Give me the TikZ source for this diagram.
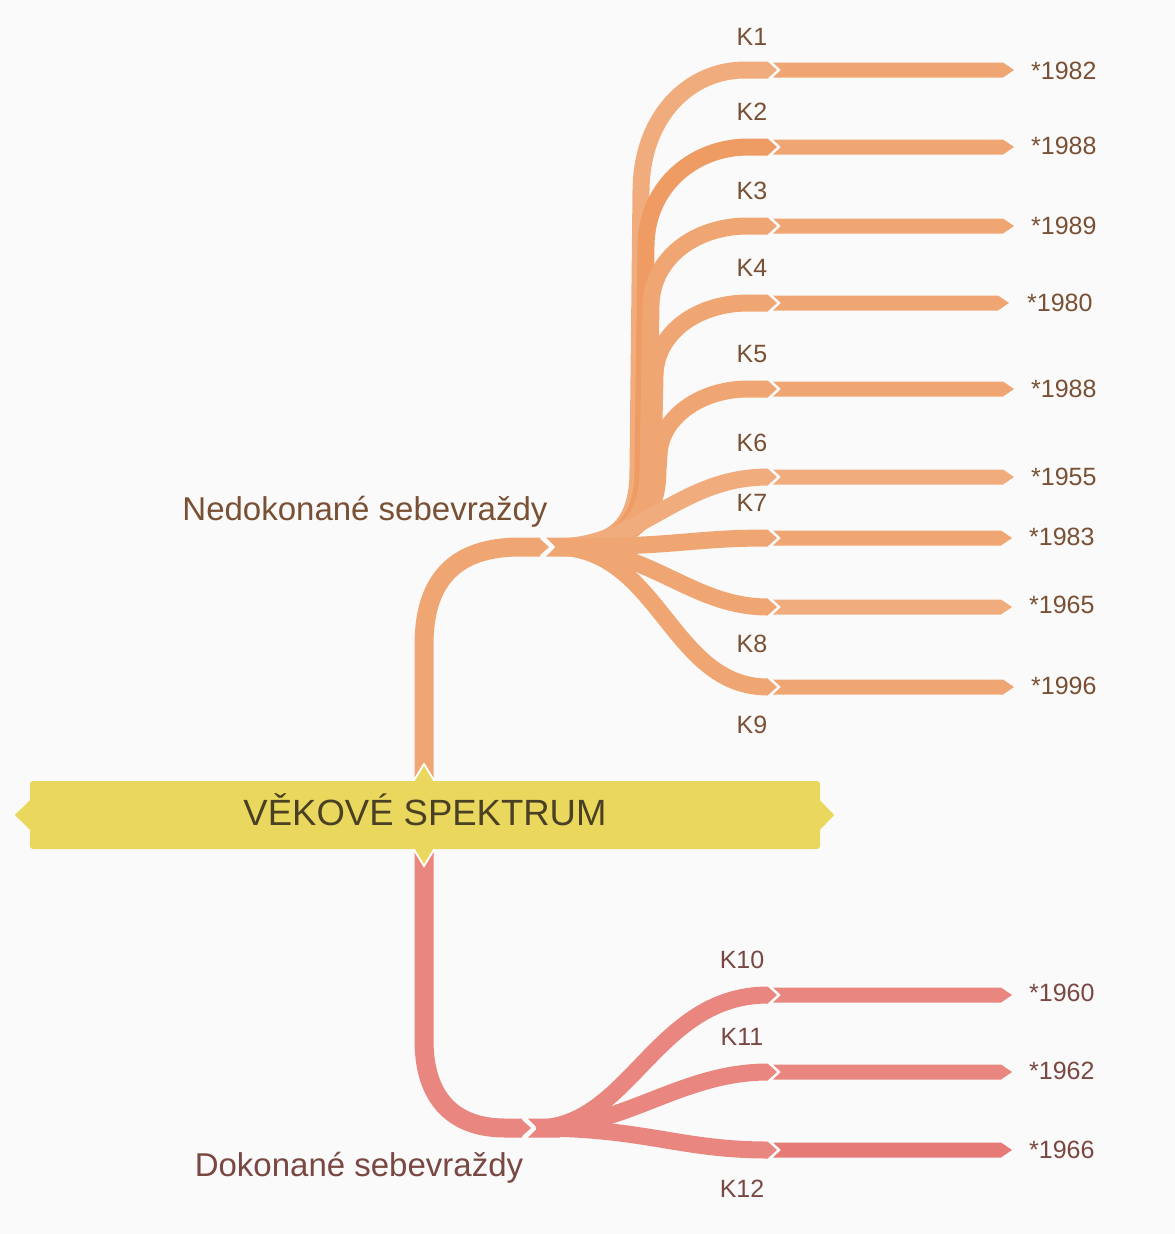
\documentclass[tikz,border=0pt]{standalone}
\usepackage{fontspec}
\setmainfont{Liberation Sans}
\usetikzlibrary{calc}

\definecolor{bgc}{HTML}{FAFAFA}
\definecolor{orA}{HTML}{F0A673}
\definecolor{orB}{HTML}{EE9C64}
\definecolor{orC}{HTML}{F1AC7E}
\definecolor{rdA}{HTML}{E8867F}
\definecolor{rdB}{HTML}{E57A76}
\definecolor{cyel}{HTML}{EAD85E}
\definecolor{txtO}{HTML}{7A5034}
\definecolor{txtR}{HTML}{7A4842}
\definecolor{txtC}{HTML}{4A4125}

% arrow tip closing a branch that ends at #1
\newcommand{\tipend}[2]{\fill[#2] (#1) ++(-0.5,-8.5) -- ++(9.5,8.5) -- ++(-9.5,8.5) -- cycle;}
% notched bar that starts just after the tip at #1
\newcommand{\leafbar}[3]{\fill[#3] (#1) ++(5,-7.5) -- ++(#2,0) -- ++(11,7.5) -- ++(-11,7.5) -- ++(-#2,0) -- ++(8,-7.5) -- cycle;}

\begin{document}
\begin{tikzpicture}[x=1pt,y=-1pt,
  stem/.style={line width=19pt},
  twig/.style={line width=17pt},
  klab/.style={font=\fontsize{25}{30}\selectfont, inner sep=0pt},
  dlab/.style={font=\fontsize{25}{30}\selectfont, inner sep=0pt, anchor=west},
  glab/.style={font=\fontsize{33}{40}\selectfont, inner sep=0pt},
]
\useasboundingbox (0,0) rectangle (1175,1234);
\fill[bgc] (0,0) rectangle (1175,1234);

% ---------- anchor points ----------
\coordinate (top0) at (424,782);
\coordinate (topEnd) at (540,547);
\coordinate (hubT) at (555,547);
\coordinate (bot0) at (424,848);
\coordinate (botEnd) at (522,1128);
\coordinate (hubB) at (536,1128);
\foreach \n/\y in {1/70,2/147,3/226,4/303,5/389,6/477,7/538,8/607,9/687,10/995,11/1072,12/1150}
  \coordinate (e\n) at (768,\y);

% ---------- upper main stem ----------
\draw[stem, orA] (top0) -- (424,645) .. controls (424,580) and (455,547) .. (520,547) -- (topEnd);
\tipend{topEnd}{orA}
\fill[orA] (546,537.5) -- (575,537.5) -- (575,556.5) -- (546,556.5) -- (555.5,547) -- cycle;

% ---------- upper branches (shared trunk, peeling off to the right) ----------
\draw[twig, orC] (hubT) .. controls (610,547) and (638,530) .. (638,470) -- (641,190) .. controls (642,115) and (690,70) .. (745,70) -- (e1);
\draw[twig, orB] (hubT) .. controls (612,547) and (643,530) .. (643,470) -- (646,245) .. controls (647,185) and (695,147) .. (748,147) -- (e2);
\draw[twig, orA] (hubT) .. controls (614,547) and (648,530) .. (648,470) -- (651,305) .. controls (652,258) and (695,226) .. (748,226) -- (e3);
\draw[twig, orA] (hubT) .. controls (616,547) and (653,530) .. (653,470) -- (655,375) .. controls (656,333) and (697,303) .. (748,303) -- (e4);
\draw[twig, orA] (hubT) .. controls (618,547) and (658,530) .. (658,470) -- (659,455) .. controls (660,418) and (700,389) .. (748,389) -- (e5);
\draw[twig, orC] (hubT) .. controls (640,547) and (678,477) .. (e6);
\draw[twig, orA] (hubT) .. controls (680,547) and (690,538) .. (e7);
\draw[twig, orA] (hubT) .. controls (650,547) and (690,607) .. (e8);
\draw[twig, orA] (hubT) .. controls (660,547) and (670,687) .. (e9);

\tipend{e1}{orC} \tipend{e2}{orB} \tipend{e3}{orA}
\tipend{e4}{orA} \tipend{e5}{orA} \tipend{e6}{orC}
\tipend{e7}{orA} \tipend{e8}{orA} \tipend{e9}{orA}

\leafbar{e1}{230}{orA} \leafbar{e2}{230}{orA} \leafbar{e3}{230}{orA}
\leafbar{e4}{225}{orA} \leafbar{e5}{230}{orA} \leafbar{e6}{230}{orC}
\leafbar{e7}{228}{orA} \leafbar{e8}{228}{orC} \leafbar{e9}{230}{orA}

% ---------- lower main stem ----------
\draw[stem, rdA] (bot0) -- (424,1040) .. controls (424,1100) and (455,1128) .. (505,1128) -- (botEnd);
\tipend{botEnd}{rdA}
\fill[rdA] (528,1118.5) -- (560,1118.5) -- (560,1137.5) -- (528,1137.5) -- (537.5,1128) -- cycle;

% ---------- lower branches ----------
\draw[twig, rdA] (hubB) .. controls (630,1128) and (655,995) .. (e10);
\draw[twig, rdA] (hubB) .. controls (625,1128) and (680,1072) .. (e11);
\draw[twig, rdA] (hubB) .. controls (645,1128) and (680,1150) .. (e12);

\tipend{e10}{rdA} \tipend{e11}{rdA} \tipend{e12}{rdA}
\leafbar{e10}{228}{rdA} \leafbar{e11}{228}{rdA} \leafbar{e12}{228}{rdB}

% ---------- central topic ----------
\node[fill=cyel, rounded corners=3pt, minimum width=790pt, minimum height=68pt,
      inner sep=0pt, font=\fontsize{36.5}{44}\selectfont, text=txtC] (root) at (425,815)
      {\makebox[0pt]{\raisebox{-10pt}[0pt][0pt]{VĚKOVÉ SPEKTRUM}}};
\fill[cyel] (root.west) ++(0.5,-15) -- ++(-15.5,15) -- ++(15.5,15) -- cycle;
\fill[cyel] (root.east) ++(-0.5,-15) -- ++(14.5,15) -- ++(-14.5,15) -- cycle;
\filldraw[cyel, draw=white, line width=1.8pt, line join=miter]
  (413,782) -- (424,764) -- (435,782);
\fill[cyel] (412,781) -- (436,781) -- (436,783) -- (412,783) -- cycle;
\filldraw[cyel, draw=white, line width=1.8pt, line join=miter]
  (413,848) -- (424,866) -- (435,848);
\fill[cyel] (412,847) -- (436,847) -- (436,849) -- (412,849) -- cycle;

% ---------- group labels ----------
\node[glab, text=txtO] (gNed) at (365,512) {Nedokonané sebevraždy};
\node[glab, text=txtR] (gDok) at (359,1168) {Dokonané sebevraždy};

% ---------- leaf labels ----------
\begin{scope}[text=txtO]
\node[klab] (k1) at (752,37) {K1};
\node[klab] (k2) at (752,112) {K2};
\node[klab] (k3) at (752,191) {K3};
\node[klab] (k4) at (752,268) {K4};
\node[klab] (k5) at (752,354) {K5};
\node[klab] (k6) at (752,443) {K6};
\node[klab] (k7) at (752,503) {K7};
\node[klab] (k8) at (752,644) {K8};
\node[klab] (k9) at (752,725) {K9};
\node[dlab] (d1) at (1031,71) {*1982};
\node[dlab] (d2) at (1031,146) {*1988};
\node[dlab] (d3) at (1031,226) {*1989};
\node[dlab] (d4) at (1027,303) {*1980};
\node[dlab] (d5) at (1031,389) {*1988};
\node[dlab] (d6) at (1031,477) {*1955};
\node[dlab] (d7) at (1029,537) {*1983};
\node[dlab] (d8) at (1029,605) {*1965};
\node[dlab] (d9) at (1031,686) {*1996};
\end{scope}
\begin{scope}[text=txtR]
\node[klab] (k10) at (742,960) {K10};
\node[klab] (k11) at (742,1037) {K11};
\node[klab] (k12) at (742,1189) {K12};
\node[dlab] (d10) at (1029,993) {*1960};
\node[dlab] (d11) at (1029,1071) {*1962};
\node[dlab] (d12) at (1029,1150) {*1966};
\end{scope}
\end{tikzpicture}
\end{document}
